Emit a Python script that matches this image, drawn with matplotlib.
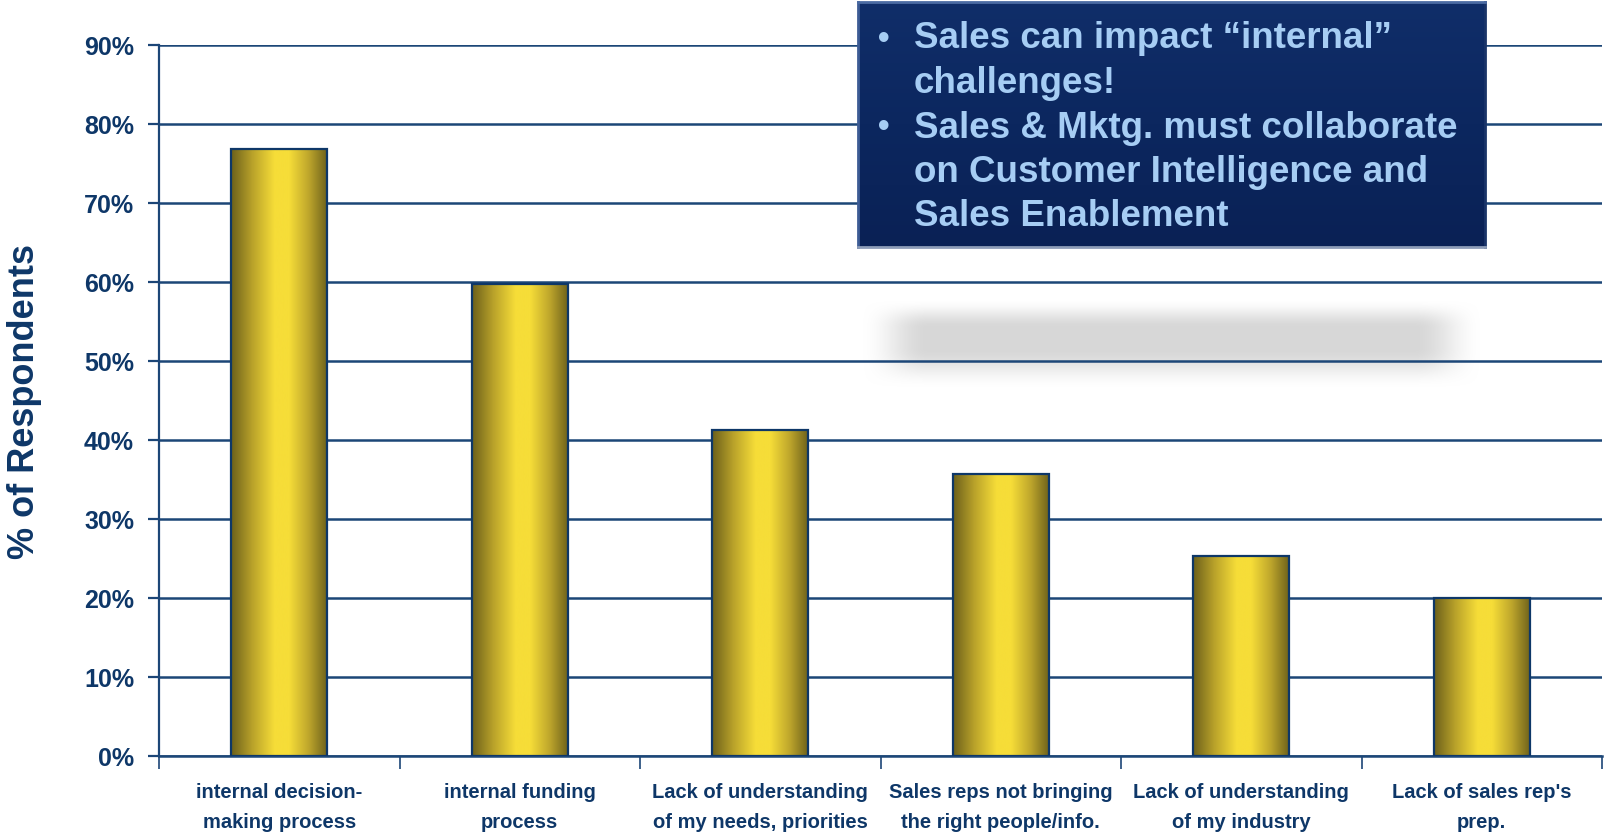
import numpy as np
import matplotlib
matplotlib.use('Agg')
from matplotlib import pyplot as plt
from matplotlib.colors import LinearSegmentedColormap

categories = ['internal decision-\nmaking process',
              'internal funding\nprocess',
              'Lack of understanding\nof my needs, priorities',
              'Sales reps not bringing\nthe right people/info.',
              'Lack of understanding\nof my industry',
              "Lack of sales rep's\nprep."]
values = [76.8, 59.7, 41.3, 35.7, 25.3, 20.0]
yticks = [0, 10, 20, 30, 40, 50, 60, 70, 80, 90]
note_lines = ['Sales can impact \u201cinternal\u201d', 'challenges!',
              'Sales & Mktg. must collaborate', 'on Customer Intelligence and',
              'Sales Enablement']
note_bullets = [True, False, True, False, False]

navy = '#0E3768'
grid_col = '#1C4677'
note_col = '#A6CDF4'

fig = plt.figure(figsize=(16.05, 8.37), dpi=100)

# soft grey shadow under the note
sh = fig.add_axes([860/1605, 1-390/837, (1482-860)/1605, 90/837], zorder=0)
W, H = 620, 90
xx = np.linspace(0, 1, W)
yy = np.linspace(0, 1, H)
def smooth(t):
    t = np.clip(t, 0, 1)
    return t*t*(3-2*t)
ax_prof = np.minimum(smooth(xx/0.11), smooth((1-xx)/0.11))
# rows run bottom to top
ay_prof = np.minimum(smooth(yy/0.45), smooth((1-yy)/0.32))
img = np.zeros((H, W, 4))
img[..., :3] = 0.845
img[..., 3] = np.outer(ay_prof, ax_prof)
sh.imshow(img, aspect='auto', extent=[0, 1, 0, 1], origin='lower')
sh.axis('off')

ax = fig.add_axes([159/1605, 80/837, (1602-159)/1605, (757-46)/837], zorder=1)
ax.patch.set_alpha(0)

x = np.arange(len(values)) + 0.5
bw = 0.40
cmap = LinearSegmentedColormap.from_list('gold', [
    (0.0, '#6C601B'), (0.22, '#B9A22A'), (0.45, '#F6DD38'),
    (0.6, '#F6DD38'), (0.8, '#BFA72C'), (1.0, '#6C601B')])
grad = np.linspace(0, 1, 256).reshape(1, -1)
for xi, v in zip(x, values):
    ax.imshow(grad, cmap=cmap, aspect='auto', zorder=3,
              extent=[xi - bw/2, xi + bw/2, 0, v])
ax.bar(x, values, width=bw, facecolor='none', edgecolor=navy, linewidth=1.6, zorder=4)

ax.set_xlim(0, 6)
ax.set_ylim(0, 90)
ax.set_yticks(yticks)
ax.set_yticklabels([f'{t}%' for t in yticks])
ax.yaxis.grid(True, color=grid_col, linewidth=1.8, zorder=1)
ax.set_axisbelow(True)
ax.set_xticks(np.arange(7))
ax.set_xticklabels([])
ax.set_xticks(x, minor=True)
ax.set_xticklabels(categories, minor=True, color=navy, fontsize=14.5,
                   fontweight='bold', family='Liberation Sans', linespacing=1.7)
ax.tick_params(axis='x', which='minor', length=0, pad=19)
ax.tick_params(axis='x', which='major', length=9, width=1.2, color=grid_col)
ax.tick_params(axis='y', length=8, width=1.6, color=grid_col, pad=10,
               labelsize=18, labelcolor=navy)
for lab in ax.get_yticklabels():
    lab.set_fontweight('bold')
    lab.set_family('Liberation Sans')
for s in ['top', 'right']:
    ax.spines[s].set_visible(False)
ax.spines['left'].set_color(grid_col)
ax.spines['left'].set_linewidth(1.6)
ax.spines['bottom'].set_color(grid_col)
ax.spines['bottom'].set_linewidth(1.8)
ax.set_ylabel('% of Respondents', fontsize=26, fontweight='bold', color=navy,
              family='Liberation Sans', labelpad=30)

# note box with dark blue gradient
bx = fig.add_axes([858/1605, 1-248/837, (1485-858)/1605, 245/837], zorder=2)
bg = LinearSegmentedColormap.from_list('nb', ['#0A2155', '#0C275F', '#102E69'])
bx.imshow(np.linspace(0, 1, 200).reshape(-1, 1), cmap=bg, aspect='auto',
          extent=[0, 1, 0, 1], origin='lower')
bx.set_xticks([])
bx.set_yticks([])
bx.spines['top'].set_color('#4B6BA3')
bx.spines['left'].set_color('#3D5C95')
bx.spines['bottom'].set_color('#8E9DB8')
bx.spines['right'].set_color('#1A3468')
for s in bx.spines.values():
    s.set_linewidth(2)

y0 = 39
for i, (line, bul) in enumerate(zip(note_lines, note_bullets)):
    yf = 1 - (y0 + i*44.5)/837
    if bul:
        fig.text(878/1605, yf, '\u2022', fontsize=24, fontweight='bold',
                 color=note_col, va='center', family='Liberation Sans', zorder=5)
    fig.text(914/1605, yf, line, fontsize=26.5, fontweight='bold', color=note_col,
             va='center', family='Liberation Sans', zorder=5)

fig.savefig('out.png', dpi=100, facecolor='white')
